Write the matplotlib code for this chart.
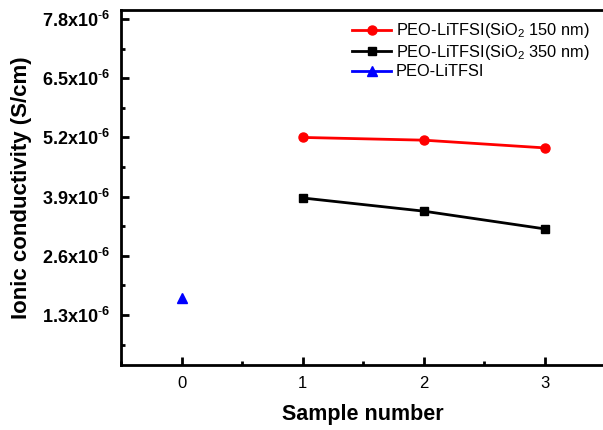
import matplotlib
matplotlib.use("Agg")
import matplotlib.pyplot as plt
from matplotlib.ticker import MultipleLocator, FixedLocator

plt.rcParams['font.family'] = ['Liberation Sans', 'DejaVu Sans']
plt.rcParams['mathtext.fontset'] = 'custom'
plt.rcParams['mathtext.rm'] = 'Liberation Sans'
plt.rcParams['mathtext.bf'] = 'Liberation Sans:bold'
plt.rcParams['mathtext.it'] = 'Liberation Sans:italic'

x_sio2 = [1, 2, 3]
y_150 = [5.20e-6, 5.14e-6, 4.97e-6]
y_350 = [3.87e-6, 3.58e-6, 3.19e-6]
x_peo = [0]
y_peo = [1.67e-6]
labels = ['PEO-LiTFSI(SiO$_2$ 150 nm)', 'PEO-LiTFSI(SiO$_2$ 350 nm)', 'PEO-LiTFSI']
yticks = [1.3e-6, 2.6e-6, 3.9e-6, 5.2e-6, 6.5e-6, 7.8e-6]
ytick_labels = ['1.3', '2.6', '3.9', '5.2', '6.5', '7.8']
xticks = [0, 1, 2, 3]

fig = plt.figure(figsize=(6.03, 4.30), dpi=100)
ax = fig.add_axes([121/603, 65/430, (605.5-121)/603, (365-10)/430])

ax.plot(x_sio2, y_150, color='red', marker='o', markersize=6.5, linewidth=2, label=labels[0])
ax.plot(x_sio2, y_350, color='black', marker='s', markersize=6, linewidth=2, label=labels[1])
ax.plot(x_peo, y_peo, color='blue', marker='^', markersize=6.5, linewidth=2, label=labels[2])

ax.set_xlim(-0.5, 3.5)
ax.set_ylim(0.2e-6, 8.0e-6)
ax.set_xticks(xticks)
ax.set_xticklabels([str(v) for v in xticks], fontsize=12)
ax.xaxis.set_minor_locator(MultipleLocator(0.5))
ax.set_yticks(yticks)
ax.set_yticklabels([t + 'x10$^{\\text{-}\\mathbf{6}}$' for t in ytick_labels], fontsize=13, fontweight='bold')
ax.yaxis.set_minor_locator(FixedLocator([0.65e-6, 1.95e-6, 3.25e-6, 4.55e-6, 5.85e-6, 7.15e-6]))

for s in ax.spines.values():
    s.set_linewidth(2)
ax.tick_params(which='major', direction='in', length=6, width=2, pad=8)
ax.tick_params(which='minor', direction='in', length=3, width=2)

ax.set_xlabel('Sample number', fontsize=15.5, fontweight='bold', labelpad=9)
ax.set_ylabel('Ionic conductivity (S/cm)', fontsize=16, fontweight='bold', labelpad=7)

ax.legend(loc='upper right', frameon=False, fontsize=11.8, handlelength=2.4,
          handletextpad=0.25, labelspacing=0.15, borderaxespad=0.3,
          bbox_to_anchor=(0.99, 1.0))

fig.savefig('out.png', dpi=100)
